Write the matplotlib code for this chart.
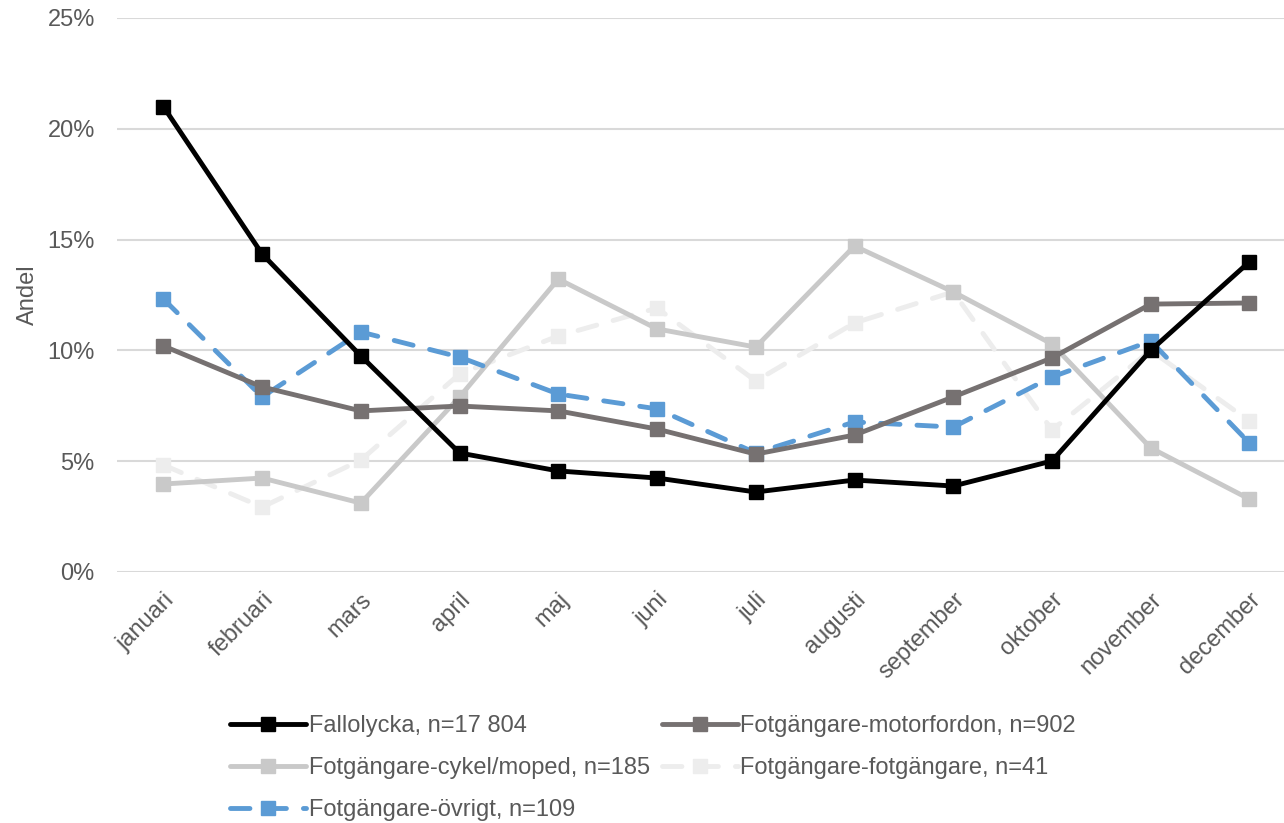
import matplotlib
matplotlib.use("Agg")
import matplotlib.pyplot as plt
from matplotlib.ticker import PercentFormatter

months = ["januari", "februari", "mars", "april", "maj", "juni", "juli",
          "augusti", "september", "oktober", "november", "december"]

fallolycka = [21.0, 14.35, 9.75, 5.37, 4.56, 4.24, 3.61, 4.15, 3.88, 5.01, 10.0, 14.0]
motorfordon = [10.2, 8.35, 7.27, 7.49, 7.27, 6.45, 5.32, 6.18, 7.9, 9.66, 12.09, 12.14]
cykel_moped = [3.97, 4.24, 3.11, 7.9, 13.22, 10.97, 10.15, 14.71, 12.64, 10.29, 5.6, 3.29]
fotg_fotg = [4.83, 2.93, 5.05, 8.94, 10.65, 11.91, 8.62, 11.24, 12.64, 6.41, 10.0, 6.81]
ovrigt = [12.32, 7.9, 10.83, 9.7, 8.03, 7.36, 5.37, 6.77, 6.54, 8.8, 10.42, 5.82]

plt.rcParams["font.family"] = ["Liberation Sans", "DejaVu Sans"]
TXT = "#595959"
FS = 17

fig = plt.figure(figsize=(12.84, 8.23), dpi=100)
ax = fig.add_axes([117 / 1284, 1 - 572 / 823, (1284 - 117) / 1284, (572 - 18) / 823])

x = range(len(months))
common = dict(lw=3.5, marker="s", ms=10, solid_capstyle="round", dash_capstyle="round")
h1, = ax.plot(x, fallolycka, color="#000000", label="Fallolycka, n=17 804", zorder=6, **common)
h2, = ax.plot(x, motorfordon, color="#767171", label="Fotgängare-motorfordon, n=902", zorder=5, **common)
h3, = ax.plot(x, cykel_moped, color="#c9c9c9", label="Fotgängare-cykel/moped, n=185", zorder=3, **common)
h4, = ax.plot(x, fotg_fotg, color="#ededed", ls=(0, (4, 3.5)), label="Fotgängare-fotgängare, n=41",
              zorder=2, **common)
h5, = ax.plot(x, ovrigt, color="#5b9bd5", ls=(0, (4, 3.5)), label="Fotgängare-övrigt, n=109",
              zorder=4, **common)

ax.set_xlim(-0.47, 11.35)
ax.set_ylim(0, 25)
ax.set_yticks(range(0, 26, 5))
ax.yaxis.set_major_formatter(PercentFormatter(decimals=0))
ax.grid(axis="y", color="#d9d9d9", lw=1.5)
ax.set_axisbelow(True)
for s in ax.spines.values():
    s.set_visible(False)
ax.tick_params(length=0, labelsize=FS, colors=TXT)
ax.tick_params(axis="y", pad=16)
ax.set_xticks(list(x))
ax.set_xticklabels(months, rotation=45, ha="right", rotation_mode="anchor")
ax.tick_params(axis="x", pad=12)
ax.set_ylabel("Andel", fontsize=FS, color=TXT, labelpad=6)

# rad-vis ordning som i originalet (matplotlib fyller kolumnvis)
handles = [h1, h3, h5, h2, h4]
ax.legend(handles=handles, labels=[h.get_label() for h in handles],
          loc="upper left", bbox_to_anchor=(209 / 1284, 1 - 694 / 823),
          bbox_transform=fig.transFigure, ncol=2, frameon=False,
          fontsize=FS, labelcolor=TXT, handlelength=3.2, handletextpad=0.12,
          columnspacing=0.52, labelspacing=0.85)

fig.savefig("out.png", dpi=100)
